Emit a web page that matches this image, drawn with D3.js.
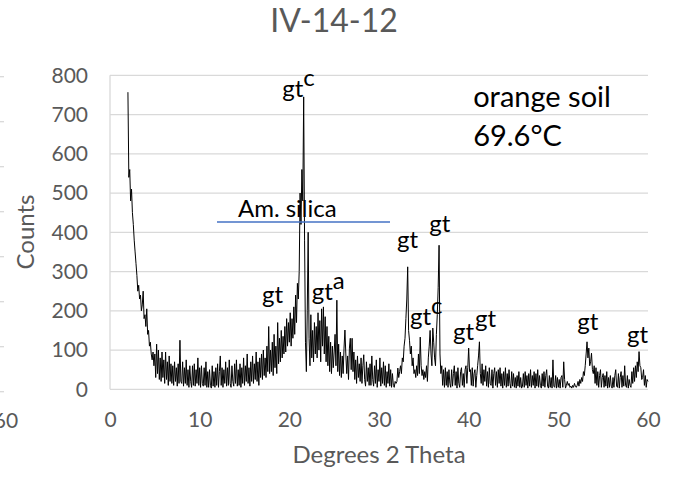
<!DOCTYPE html>
<html>
<head>
<meta charset="utf-8">
<script src="https://cdn.jsdelivr.net/npm/d3@7/dist/d3.min.js"></script>
<style>
body{margin:0;background:#fff;}
text{font-family:Lato,"Open Sans",sans-serif;}
</style>
</head>
<body>
<svg id="chart" width="682" height="480"></svg>
<script>
var chartTitle = "IV-14-12";
var xTicks = [0, 10, 20, 30, 40, 50, 60];
var yTicks = [0, 100, 200, 300, 400, 500, 600, 700, 800];

// scan starts at 2 deg, one reading every 0.1 deg
var thetaStart = 2, thetaStep = 0.1;
var counts = [
  757,540,560,480,510,450,420,380,350,320,
  290,250,265,230,240,200,215,250,180,190,
  160,205,140,150,110,120,90,75,95,60,
  90,30,115,40,100,25,80,20,95,30,
  75,15,95,25,70,10,85,20,65,15,
  60,10,70,20,55,8,65,15,125,20,
  15,70,8,55,15,75,10,50,5,60,
  20,5,60,10,65,8,50,15,80,10,
  55,5,60,15,8,55,10,70,5,45,
  5,50,10,3,60,8,45,5,55,10,
  65,5,45,85,10,55,5,50,15,70,
  8,55,10,75,15,5,60,20,8,65,
  15,75,8,50,10,65,5,55,15,80,
  10,60,20,90,15,55,8,70,20,85,
  15,65,25,95,20,70,10,80,30,90,
  25,100,35,80,30,110,45,160,40,100,
  45,120,35,140,55,110,40,170,65,130,
  70,150,80,135,90,160,95,180,110,170,
  120,195,110,180,130,210,140,240,170,270,
  230,300,500,420,560,480,745,380,120,45,
  200,400,130,60,190,80,150,70,170,90,
  160,80,195,100,175,70,205,110,210,90,
  185,70,160,60,135,45,120,40,110,55,
  95,140,60,227,45,115,35,95,30,85,
  40,105,151,90,40,85,25,105,130,50,
  130,45,95,25,75,15,85,30,65,20,
  80,15,60,88,25,8,70,20,55,10,
  65,10,85,25,8,60,15,75,5,50,
  20,80,8,55,15,70,10,60,5,45,
  15,65,8,50,5,40,10,5,20,15,
  20,54,30,45,60,40,80,70,110,130,
  180,230,312,150,125,90,110,60,80,40,
  50,30,60,35,90,40,133,60,35,50,
  25,45,30,60,20,80,110,150,90,60,
  156,120,80,60,140,190,260,367,90,40,
  60,10,50,5,55,10,45,5,50,15,
  5,50,8,40,60,10,45,3,55,15,
  5,45,55,10,40,5,50,60,15,55,
  105,45,50,10,55,8,40,50,5,35,
  60,85,121,40,15,65,10,50,20,60,
  8,45,5,55,15,10,50,3,40,55,
  10,45,5,50,15,55,8,40,3,45,
  10,55,5,40,8,50,15,3,45,8,
  40,5,30,3,35,8,45,5,30,3,
  8,40,5,45,10,35,3,40,8,50,
  5,35,10,45,3,40,8,50,5,35,
  10,3,40,8,45,5,35,50,8,3,
  35,5,30,3,75,8,5,35,3,30,
  5,25,3,30,35,5,70,25,3,10,
  20,10,15,5,8,3,10,5,15,8,
  5,10,20,8,25,15,30,20,45,35,
  60,90,121,80,105,60,70,92,50,40,
  60,15,55,10,45,5,35,50,5,30,
  40,5,35,8,45,3,30,5,35,8,
  3,30,5,35,50,8,5,40,3,30,
  45,5,35,8,60,10,5,35,3,25,
  10,5,45,15,55,20,60,30,70,45,
  96,60,55,25,30,50,10,35,5,25,
  20
];

// phase labels, anchored at (theta, counts) of the text baseline start
var peakLabels = [
  {text: "gt", sup: "c", theta: 19.2, count: 744},
  {text: "gt", sup: "", theta: 16.95, count: 220},
  {text: "gt", sup: "a", theta: 22.5, count: 227},
  {text: "gt", sup: "", theta: 32.0, count: 360},
  {text: "gt", sup: "", theta: 35.6, count: 400},
  {text: "gt", sup: "c", theta: 33.45, count: 164},
  {text: "gt", sup: "", theta: 38.25, count: 125},
  {text: "gt", sup: "", theta: 40.7, count: 159},
  {text: "gt", sup: "", theta: 52.1, count: 151},
  {text: "gt", sup: "", theta: 57.65, count: 118}
];
var sampleNote = ["orange soil", "69.6\u00B0C"];
var silicaText = "Am. silica";
var silicaRange = [11.93, 31.23];
var silicaCount = 426;
// neighbour chart stub on the far left
var neighbourTicks = [0, 100, 200, 300, 400, 500, 600, 700];

var svg = d3.select("#chart");
var m = {left: 110, right: 34, top: 75.3, bottom: 90.7};
var W = 682, H = 480;

var x = d3.scaleLinear().domain([0, 60]).range([m.left, W - m.right]);
var y = d3.scaleLinear().domain([0, 800]).range([H - m.bottom, m.top]);
var yN = d3.scaleLinear().domain([0, 700]).range([391.7, 76.7]);

var grey = "#d9d9d9", textGrey = "#595959";

// leftover bits of the chart next door
svg.append("g").selectAll("line").data(neighbourTicks).join("line")
    .attr("x1", 0).attr("x2", 4)
    .attr("y1", function(d){ return yN(d); }).attr("y2", function(d){ return yN(d); })
    .attr("stroke", grey).attr("stroke-width", 1.3);
svg.append("text").attr("x", 6).attr("y", 428).attr("text-anchor", "middle")
    .attr("fill", textGrey).style("font-size", "21px").text("60");

// gridlines
svg.append("g").selectAll("line").data(yTicks).join("line")
    .attr("x1", x(0)).attr("x2", x(60))
    .attr("y1", function(d){ return y(d); }).attr("y2", function(d){ return y(d); })
    .attr("stroke", grey).attr("stroke-width", 1.3);
svg.append("line")
    .attr("x1", x(0)).attr("x2", x(0)).attr("y1", y(800)).attr("y2", y(0))
    .attr("stroke", grey).attr("stroke-width", 1.3);

var yAxis = svg.append("g").attr("transform", "translate(" + m.left + ",0)")
    .call(d3.axisLeft(y).tickValues(yTicks).tickSize(0).tickPadding(22));
var xAxis = svg.append("g").attr("transform", "translate(0," + (H - m.bottom) + ")")
    .call(d3.axisBottom(x).tickValues(xTicks).tickSize(0).tickPadding(23));
[yAxis, xAxis].forEach(function(a){
  a.select(".domain").remove();
  a.selectAll("text").attr("fill", textGrey)
    .style("font-size", "21px").style("font-family", "Lato,'Open Sans',sans-serif");
});

// the scan itself
var line = d3.line()
    .x(function(d, i){ return x(thetaStart + i * thetaStep); })
    .y(function(d){ return y(d); });
svg.append("path").datum(counts)
    .attr("d", line).attr("fill", "none")
    .attr("stroke", "#000").attr("stroke-width", 1).attr("stroke-linejoin", "miter");

// amorphous silica bar
svg.append("line")
    .attr("x1", x(silicaRange[0])).attr("x2", x(silicaRange[1]))
    .attr("y1", y(silicaCount)).attr("y2", y(silicaCount))
    .attr("stroke", "#4472c4").attr("stroke-width", 1.5);
svg.append("text").attr("x", x(14.27)).attr("y", y(438))
    .style("font-size", "24px").attr("fill", "#000").text(silicaText);

// peak labels
var pl = svg.append("g").selectAll("text").data(peakLabels).join("text")
    .attr("x", function(d){ return x(d.theta); })
    .attr("y", function(d){ return y(d.count); })
    .style("font-size", "24px").attr("fill", "#000");
pl.append("tspan").text(function(d){ return d.text; });
pl.append("tspan").attr("dy", -11).text(function(d){ return d.sup; });

svg.append("g").selectAll("text").data(sampleNote).join("text")
    .attr("x", x(40.5))
    .attr("y", function(d, i){ return y(719) + i * 38.5; })
    .style("font-size", "29px").attr("fill", "#000")
    .text(function(d){ return d; });

// titles
svg.append("text").attr("x", 334).attr("y", 32).attr("text-anchor", "middle")
    .attr("fill", textGrey).style("font-size", "32px").text(chartTitle);
svg.append("text").attr("transform", "translate(34,232) rotate(-90)")
    .attr("text-anchor", "middle").attr("fill", textGrey)
    .style("font-size", "24px").text("Counts");
svg.append("text").attr("x", 379).attr("y", 463).attr("text-anchor", "middle")
    .attr("fill", textGrey).style("font-size", "24px").text("Degrees 2 Theta");
</script>
</body>
</html>
